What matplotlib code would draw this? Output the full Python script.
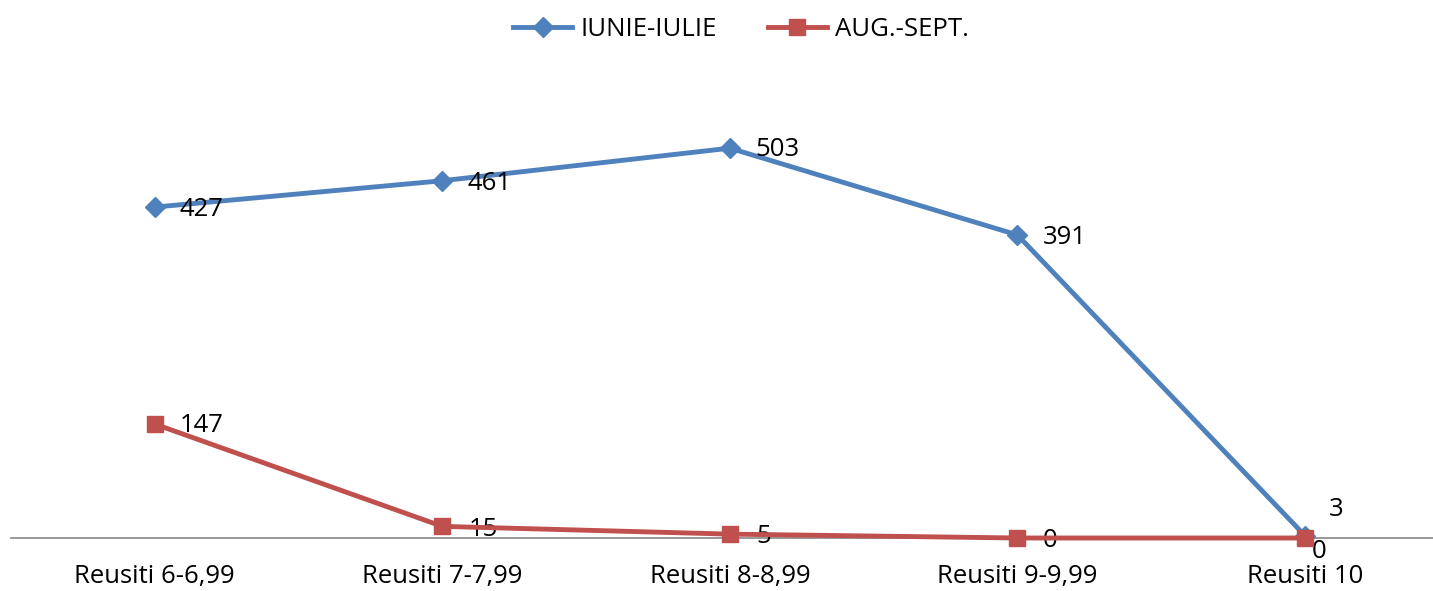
import matplotlib.pyplot as plt

plt.rcParams['font.family'] = ['Open Sans', 'DejaVu Sans']

categories = ["Reusiti 6-6,99", "Reusiti 7-7,99", "Reusiti 8-8,99", "Reusiti 9-9,99", "Reusiti 10"]
iunie_iulie = [427, 461, 503, 391, 3]
aug_sept = [147, 15, 5, 0, 0]

# label offsets (points), tuned to the original placement
blue_offsets = [(18, -2), (18, -2), (18, -1), (18, -2), (17, 19)]
red_offsets = [(18, -1), (19, -2), (19, -2), (18, -2), (5, -10)]

fig = plt.figure(figsize=(14.33, 5.91), dpi=100)
ax = fig.add_axes([11 / 1433, 53 / 591, 1 - 11 / 1433, 465 / 591])

x = list(range(len(categories)))
ax.plot(x, iunie_iulie, color="#4F81BD", lw=3.5, marker="D", markersize=10,
        label="IUNIE-IULIE", clip_on=False, zorder=3)
ax.plot(x, aug_sept, color="#C0504D", lw=3.5, marker="s", markersize=12,
        label="AUG.-SEPT.", clip_on=False, zorder=4)

for xi, v, off in zip(x, iunie_iulie, blue_offsets):
    ax.annotate(str(v), (xi, v), xytext=off, textcoords="offset points",
                ha="left", va="center", fontsize=18.5, color="#000000")
for xi, v, off in zip(x, aug_sept, red_offsets):
    ax.annotate(str(v), (xi, v), xytext=off, textcoords="offset points",
                ha="left", va="center", fontsize=18.5, color="#000000")

ax.set_xlim(-0.5, (1433 - 155) / 287.5)
ax.set_ylim(0, 600)
ax.set_xticks(x)
ax.set_xticklabels(categories, fontsize=18.5)
ax.tick_params(axis="x", length=0, pad=19)
ax.set_yticks([])
for s in ["top", "right", "left"]:
    ax.spines[s].set_visible(False)
ax.spines["bottom"].set_color("#868686")
ax.spines["bottom"].set_linewidth(1.2)

fig.legend(loc="upper center", bbox_to_anchor=(0.517, 1.01), ncol=2, frameon=False,
           fontsize=18.5, handlelength=2.3, columnspacing=2.0, handletextpad=0.3)

fig.savefig("out.png", dpi=100)
